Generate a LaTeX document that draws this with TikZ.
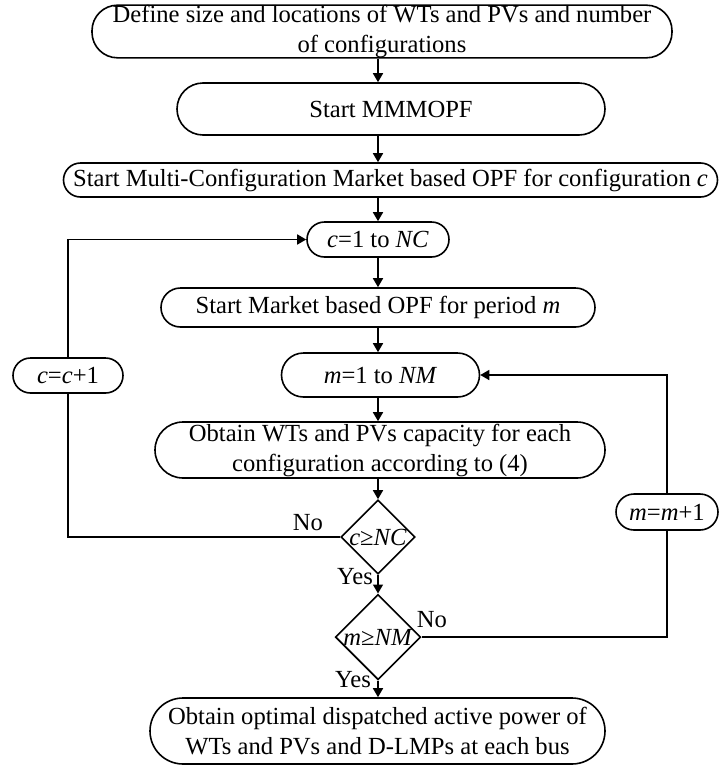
\documentclass[tikz,border=0pt]{standalone}
\usepackage{fontspec}
\setmainfont{Liberation Serif}
\usetikzlibrary{shapes.geometric,arrows.meta}
\tikzstyle{stadium}=[rectangle,draw,thick,inner sep=0pt,align=center]
\tikzstyle{decision}=[diamond,draw,thick,inner sep=0pt,minimum width=35pt,minimum height=35pt]
\tikzstyle{flow}=[draw,thick,-{Triangle[length=4.5pt,width=5pt]}]
\tikzstyle{retour}=[draw,thick]

\begin{document}
\begin{tikzpicture}[x=0.5pt,y=0.5pt,font=\fontsize{12.3}{15}\selectfont]
    \useasboundingbox (0,0) rectangle (719,-766);
    % boites
    \node[stadium,minimum width=290pt,minimum height=25.5pt,rounded corners=12.75pt] (def) at (382,-31.5) {Define size and locations of WTs and PVs and number\\of configurations};
    \node[stadium,minimum width=214pt,minimum height=26pt,rounded corners=13pt] (mmmopf) at (391,-109) {Start MMMOPF};
    \node[stadium,minimum width=327pt,minimum height=17pt,rounded corners=8.5pt] (multi) at (390.5,-180) {Start Multi-Configuration Market based OPF for configuration \textit{c}};
    \node[stadium,minimum width=71pt,minimum height=17.5pt,rounded corners=8.75pt] (cloop) at (378,-239.5) {\textit{c}=1 to \textit{NC}};
    \node[stadium,minimum width=217pt,minimum height=19.5pt,rounded corners=9.75pt] (period) at (378,-307.5) {Start Market based OPF for period \textit{m}};
    \node[stadium,minimum width=99pt,minimum height=22pt,rounded corners=11pt] (mloop) at (380.5,-375) {\textit{m}=1 to \textit{NM}};
    \node[stadium,minimum width=225pt,minimum height=28pt,rounded corners=14pt] (capa) at (380,-450) {Obtain WTs and PVs capacity for each\\configuration according to (4)};
    \node[decision] (dc) at (378,-537) {\textit{c}≥\textit{NC}};
    \node[decision] (dm) at (378,-637) {\textit{m}≥\textit{NM}};
    \node[stadium,minimum width=227.5pt,minimum height=33pt,rounded corners=16.5pt] (final) at (377.5,-731) {Obtain optimal dispatched active power of\\WTs and PVs and D-LMPs at each bus};
    \node[stadium,minimum width=55pt,minimum height=17.5pt,rounded corners=8.75pt] (cinc) at (68,-375.5) {\textit{c}=\textit{c}+1};
    \node[stadium,minimum width=51pt,minimum height=18pt,rounded corners=9pt] (minc) at (667,-512) {\textit{m}=\textit{m}+1};
    % etiquettes
    \node (noc) at (308,-523) {No};
    \node (nom) at (432,-620) {No};
    \node (yesc) at (355,-577) {Yes};
    \node (yesm) at (353,-680) {Yes};
    % fleches
    \foreach \source/\dest in {def/mmmopf, mmmopf/multi, multi/cloop, cloop/period, period/mloop, mloop/capa, capa/dc, dc/dm, dm/final}
        \path[flow] (\source.south -| dc) -- (\dest.north -| dc);
    \path[retour] (dc.west) -| (cinc.south);
    \path[flow] (cinc.north) |- (cloop.west);
    \path[retour] (dm.east) -| (minc.south);
    \path[flow] (minc.north) |- (mloop.east);
\end{tikzpicture}
\end{document}
